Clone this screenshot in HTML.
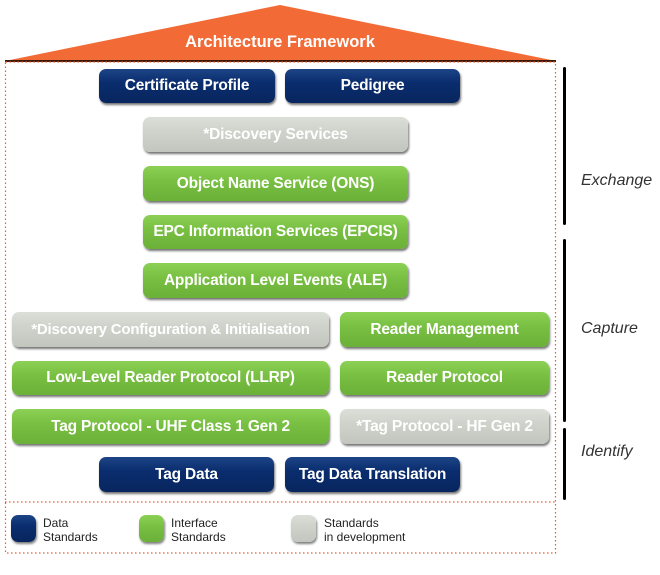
<!DOCTYPE html>
<html><head><meta charset="utf-8"><style>
body{margin:0;width:660px;height:575px;background:#fff;position:relative;overflow:hidden;font-family:"Liberation Sans",sans-serif}
.b{position:absolute;border-radius:7px;color:#fff;font-weight:bold;font-size:15.5px;display:flex;align-items:center;justify-content:center;white-space:nowrap;box-shadow:1px 2px 2px rgba(0,0,0,.55);letter-spacing:-0.2px}
.n{background:linear-gradient(#1d4586,#0a2d6e 40%,#08265e)}
.g{background:linear-gradient(#8cd155,#79c043 40%,#6bb038)}
.y{background:linear-gradient(#dcdfd8,#cfd3cb 40%,#c2c6be)}
.bar{position:absolute;left:563px;width:3px;background:#000;border-radius:2px}
.lab{position:absolute;left:581px;font-style:italic;color:#333;font-size:16px}
.lt{position:absolute;font-size:12px;color:#222;line-height:14px}
.sw{position:absolute;width:25px;height:27px;border-radius:7px;box-shadow:1px 2px 2px rgba(0,0,0,.5)}
</style></head><body>
<svg width="660" height="575" style="position:absolute;left:0;top:0">
<polygon points="5,61 280,5 556,61" fill="#f26a35"/>
<line x1="5" y1="61" x2="556" y2="61" stroke="#3a1a0a" stroke-width="2"/>
<rect x="5.5" y="62" width="550" height="491" fill="none" stroke="#f05a28" stroke-width="1.2" stroke-dasharray="1.5,2.5"/>
<line x1="5" y1="502" x2="556" y2="502" stroke="#f05a28" stroke-width="1.2" stroke-dasharray="1.5,2.5"/>
<text x="280" y="47" text-anchor="middle" fill="#fff" font-family="Liberation Sans" font-weight="bold" font-size="16.5">Architecture Framework</text>
</svg>
<div class="b n" style="left:99px;top:69px;width:176px;height:34px">Certificate Profile</div>
<div class="b n" style="left:285px;top:69px;width:175px;height:34px">Pedigree</div>
<div class="b y" style="left:143px;top:117px;width:265px;height:35px">*Discovery Services</div>
<div class="b g" style="left:143px;top:166px;width:265px;height:35px">Object Name Service (ONS)</div>
<div class="b g" style="left:143px;top:215px;width:265px;height:34px">EPC Information Services (EPCIS)</div>
<div class="b g" style="left:143px;top:263px;width:265px;height:35px">Application Level Events (ALE)</div>
<div class="b y" style="left:12px;top:312px;width:317px;height:35px;font-size:15px">*Discovery Configuration &amp; Initialisation</div>
<div class="b g" style="left:340px;top:312px;width:209px;height:35px">Reader Management</div>
<div class="b g" style="left:12px;top:361px;width:317px;height:34px">Low-Level Reader Protocol (LLRP)</div>
<div class="b g" style="left:340px;top:361px;width:209px;height:34px">Reader Protocol</div>
<div class="b g" style="left:12px;top:409px;width:317px;height:35px">Tag Protocol - UHF Class 1 Gen 2</div>
<div class="b y" style="left:340px;top:409px;width:209px;height:35px">*Tag Protocol - HF Gen 2</div>
<div class="b n" style="left:99px;top:457px;width:175px;height:35px">Tag Data</div>
<div class="b n" style="left:285px;top:457px;width:175px;height:35px">Tag Data Translation</div>
<div class="bar" style="top:67px;height:158px"></div>
<div class="bar" style="top:239px;height:183px"></div>
<div class="bar" style="top:428px;height:72px"></div>
<div class="lab" style="top:172px">Exchange</div>
<div class="lab" style="top:320px">Capture</div>
<div class="lab" style="top:443px">Identify</div>
<div class="sw n" style="left:11px;top:515px"></div>
<div class="lt" style="left:43px;top:516px">Data<br>Standards</div>
<div class="sw g" style="left:139px;top:515px"></div>
<div class="lt" style="left:171px;top:516px">Interface<br>Standards</div>
<div class="sw y" style="left:291px;top:515px"></div>
<div class="lt" style="left:324px;top:516px">Standards<br>in development</div>
</body></html>
